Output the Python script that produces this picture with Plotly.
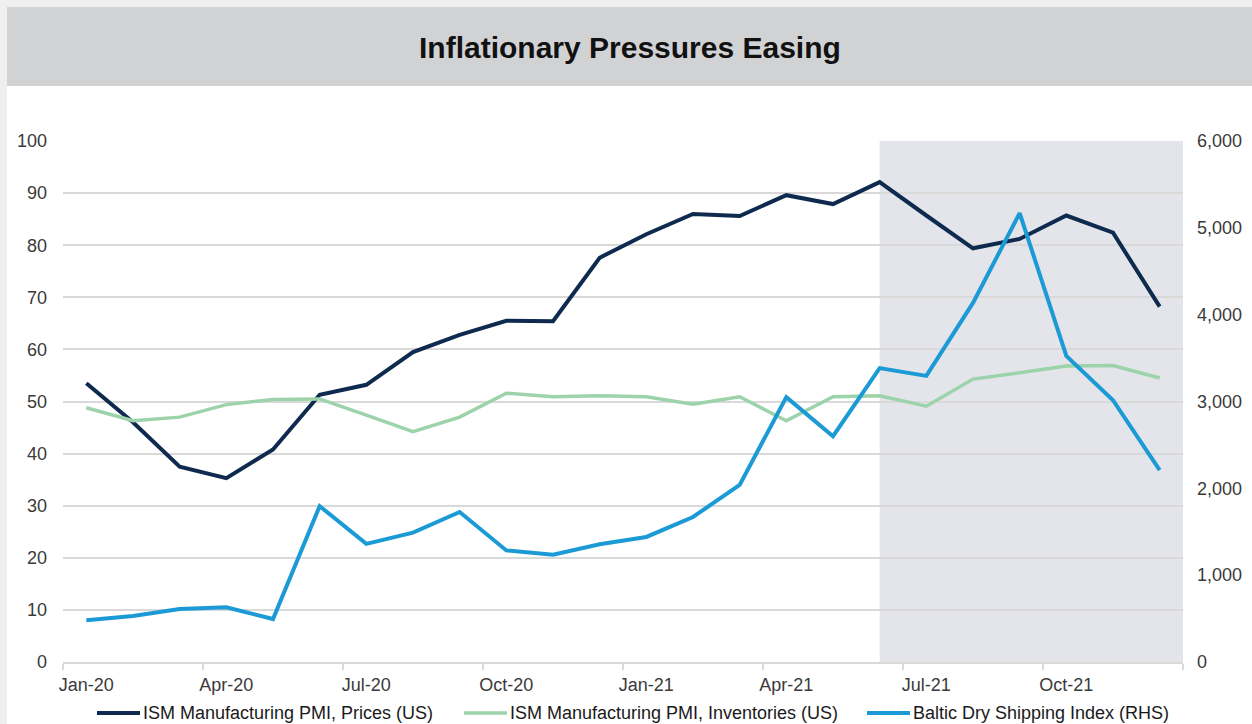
import plotly.graph_objects as go

months = ["Jan-20", "Feb-20", "Mar-20", "Apr-20", "May-20", "Jun-20", "Jul-20", "Aug-20",
          "Sep-20", "Oct-20", "Nov-20", "Dec-20", "Jan-21", "Feb-21", "Mar-21", "Apr-21",
          "May-21", "Jun-21", "Jul-21", "Aug-21", "Sep-21", "Oct-21", "Nov-21", "Dec-21"]

pmi_prices = [53.5, 46.0, 37.5, 35.3, 40.8, 51.3, 53.2, 59.5, 62.8, 65.5, 65.4, 77.6,
              82.1, 86.0, 85.6, 89.6, 87.9, 92.1, 85.7, 79.4, 81.2, 85.7, 82.4, 68.2]

pmi_inventories = [48.8, 46.3, 47.0, 49.4, 50.4, 50.5, 47.4, 44.2, 47.0, 51.6, 50.9, 51.1,
                   50.9, 49.5, 50.9, 46.3, 50.9, 51.1, 49.1, 54.3, 55.5, 56.8, 56.9, 54.5]

baltic_dry = [480, 530, 610, 630, 495, 1795, 1360, 1490, 1727, 1285, 1235, 1355,
              1440, 1670, 2040, 3050, 2600, 3385, 3295, 4135, 5170, 3525, 3015, 2210]

series_names = ["ISM Manufacturing PMI, Prices (US)",
                "ISM Manufacturing PMI, Inventories (US)",
                "Baltic Dry Shipping Index (RHS)"]
colors = ["#0e2a4e", "#9dd3ab", "#1b9ad6"]
widths = [4, 3.5, 4]

label_months = months[::3]
shade_start = "Jun-21"

x_idx = list(range(len(months)))
n = len(months)

fig = go.Figure()
fig.add_trace(go.Scatter(x=x_idx, y=pmi_prices, name=series_names[0], mode="lines",
                         line=dict(color=colors[0], width=widths[0])))
fig.add_trace(go.Scatter(x=x_idx, y=pmi_inventories, name=series_names[1], mode="lines",
                         line=dict(color=colors[1], width=widths[1])))
fig.add_trace(go.Scatter(x=x_idx, y=baltic_dry, name=series_names[2], mode="lines",
                         line=dict(color=colors[2], width=widths[2]), yaxis="y2"))

font_family = "Liberation Sans, Arial, sans-serif"
tick_font = dict(family=font_family, size=18, color="#3a3a3a")
grid = "#d9d9d9"

# page geometry (pixels -> paper coords)
W, H = 1252, 724
ml, mr, mt, mb = 63, 69, 141, 62
pw, ph = W - ml - mr, H - mt - mb
def px(x): return (x - ml) / pw
def py(y): return (H - mb - y) / ph

shapes = [
    dict(type="rect", xref="paper", yref="paper", x0=px(0), x1=px(W), y0=py(7), y1=py(0),
         fillcolor="#efefef", line=dict(width=0), layer="below"),
    dict(type="rect", xref="paper", yref="paper", x0=px(0), x1=px(7), y0=py(H), y1=py(0),
         fillcolor="#efefef", line=dict(width=0), layer="below"),
    dict(type="rect", xref="paper", yref="paper", x0=px(7), x1=px(W), y0=py(86), y1=py(7),
         fillcolor="#d1d2d4", line=dict(width=0), layer="below"),
    dict(type="rect", xref="x", yref="paper", x0=months.index(shade_start), x1=n - 0.5,
         y0=0, y1=1, fillcolor="#e3e5ea", line=dict(width=0), layer="below"),
]

annotations = [dict(text="<b>Inflationary Pressures Easing</b>", xref="paper", yref="paper",
                    x=px(630), y=py(47), xanchor="center", yanchor="middle", showarrow=False,
                    font=dict(family="Liberation Sans Narrow, Arial Narrow, Liberation Sans, sans-serif",
                              size=30, color="#111111"))]

# custom legend at the bottom (line sample + label)
legend_starts = [97, 464, 867]
legend_y = 713
for name, col, lw, x0 in zip(series_names, colors, widths, legend_starts):
    shapes.append(dict(type="line", xref="paper", yref="paper", x0=px(x0), x1=px(x0 + 43),
                       y0=py(legend_y), y1=py(legend_y), line=dict(color=col, width=lw)))
    annotations.append(dict(text=name, xref="paper", yref="paper", x=px(x0 + 44), y=py(legend_y),
                            xanchor="left", yanchor="middle", showarrow=False,
                            font=dict(family=font_family, size=18, color="#1a1a1a")))

fig.update_layout(
    width=W, height=H,
    margin=dict(l=ml, r=mr, t=mt, b=mb, autoexpand=False),
    paper_bgcolor="white", plot_bgcolor="white",
    shapes=shapes,
    annotations=annotations,
    xaxis=dict(range=[-0.5, n - 0.5], tickmode="array",
               tickvals=[months.index(m) for m in label_months], ticktext=label_months,
               showgrid=False, zeroline=False, showline=True, linecolor=grid, linewidth=1.5,
               ticks="", tickfont=tick_font, ticklabelstandoff=6,
               minor=dict(tickmode="array", tickvals=[i - 0.5 for i in range(0, n + 1, 3)],
                          ticks="outside", ticklen=6, tickwidth=1.5, tickcolor=grid,
                          showgrid=False)),
    yaxis=dict(range=[0, 100], dtick=10, showgrid=True, gridcolor=grid, gridwidth=1.5,
               zeroline=False, showline=False, ticks="", tickfont=tick_font,
               ticklabelstandoff=15),
    yaxis2=dict(range=[0, 6000], dtick=1000, overlaying="y", side="right", showgrid=False,
                zeroline=False, showline=False, ticks="", tickformat=",", tickfont=tick_font,
                ticklabelstandoff=13),
    showlegend=False,
)

fig.write_html("out.html", config={"displayModeBar": False},
               post_script="document.body.style.margin='0';")
